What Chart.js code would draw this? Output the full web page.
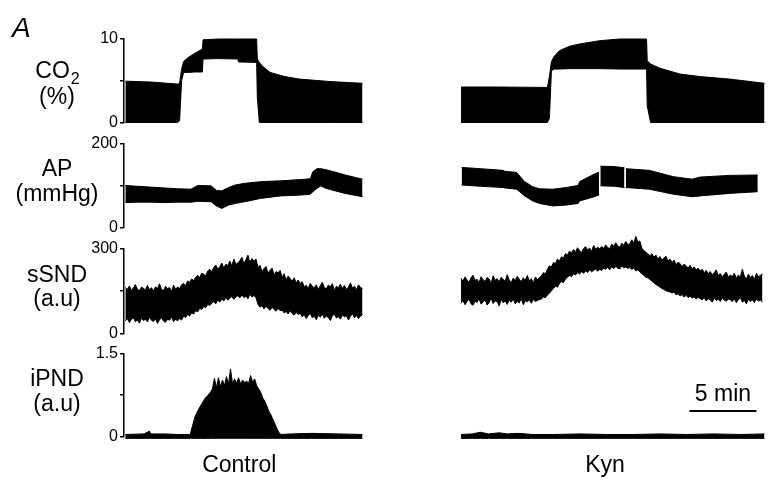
<!DOCTYPE html>
<html>
<head>
<meta charset="utf-8">
<script src="https://cdn.jsdelivr.net/npm/chart.js"></script>
<style>
  body { margin: 0; background: #fff; }
  #wrap { position: relative; width: 772px; height: 479px; }
  canvas { position: absolute; left: 0; top: 0; }
</style>
</head>
<body>
<div id="wrap">
  <canvas id="co2" width="772" height="479"></canvas>
  <canvas id="ap" width="772" height="479"></canvas>
  <canvas id="ssnd" width="772" height="479"></canvas>
  <canvas id="ipnd" width="772" height="479"></canvas>
</div>
<script>
// time in minutes, shared by all rows
const xMax = 47.84;

// CO2 (%) - trace envelope (lower / upper edge of the black band)
const co2CtrlT  = [0.1, 2.0, 4.0, 4.15, 4.3, 4.45, 4.8, 5.3, 5.85, 5.9, 7.0, 8.5, 8.55, 9.9, 9.95, 10.1, 10.3, 10.9, 12.0, 13.1, 15.4, 17.8];
const co2CtrlHi = [4.95, 4.85, 4.6, 4.7, 6.4, 7.3, 7.8, 8.3, 8.8, 9.9, 10, 10, 10, 10, 7.6, 7.2, 6.8, 6.0, 5.5, 5.2, 4.9, 4.7];
const co2CtrlLo = [0, 0, 0, 0.2, 5.0, 6.0, 6.0, 6.05, 6.05, 7.6, 7.65, 7.6, 7.25, 7.2, 3.0, 0, 0, 0, 0, 0, 0, 0];
const co2KynT  = [25.15, 28.0, 31.6, 31.75, 31.9, 32.1, 32.5, 33.2, 34.0, 35.5, 37.0, 39.0, 39.05, 39.3, 40.0, 41.5, 43.0, 45.2, 47.8];
const co2KynHi = [4.25, 4.25, 4.2, 5.5, 7.3, 7.9, 8.6, 9.1, 9.4, 9.8, 10.0, 10.0, 7.4, 7.0, 6.5, 5.8, 5.5, 5.2, 4.7];
const co2KynLo = [0, 0, 0, 0.5, 6.2, 6.4, 6.4, 6.45, 6.45, 6.45, 6.4, 6.4, 2.0, 0, 0, 0, 0, 0, 0];

// AP (mmHg); null = short break in the recording
const apCtrlT  = [0.1, 1.0, 2.0, 3.0, 4.0, 5.0, 5.5, 6.5, 6.9, 7.3, 7.8, 8.3, 9.0, 10.2, 11.7, 13.2, 13.9, 14.1, 14.4, 14.7, 15.0, 15.4, 16.5, 17.8];
const apCtrlHi = [101, 99, 97, 95, 93, 92, 101, 100, 89, 88, 96, 102, 106, 110, 112, 115, 117, 134, 141, 141, 139, 136, 126, 116];
const apCtrlLo = [60, 61, 61, 60, 61, 61, 63, 62, 52, 46, 54, 58, 62, 70, 76, 78, 80, 86, 94, 100, 95, 91, 82, 74];
const apKynT  = [25.2, 26.6, 28.3, 28.4, 29.3, 29.9, 30.5, 31.0, 32.0, 33.0, 33.9, 34.0, 34.9, 35.45, 35.5, 35.55, 36.6, 37.35, 37.4, 37.45, 39.2, 41.0, 42.4, 43.0, 45.2, 47.3];
const apKynHi = [144, 141, 137, 135, 132, 110, 98, 93, 92, 96, 101, 110, 125, 133, null, 147, 146, 143, null, 141, 137, 122, 116, 121, 125, 126];
const apKynLo = [102, 99, 96, 95, 92, 76, 64, 58, 52, 54, 58, 64, 72, 78, null, 100, 99, 96, null, 96, 92, 80, 74, 76, 82, 86];

// sSND (a.u) - band edges sampled every ssndStep minutes
const ssndStep = 0.15;
const ssndCtrlStart = 0.1;
const ssndKynStart = 25.15;
const ssndCtrlHi = [
  162, 155, 167, 152, 160, 172, 156, 150, 163, 159, 153, 169, 154, 161, 149, 164, 158, 175, 155, 151, 166, 157, 162, 148, 170, 156, 163,
  158, 171, 176, 168, 185, 180, 192, 186, 198, 205, 196, 212, 208, 203, 220, 226,
  218, 232, 241, 226, 236, 248, 230, 244, 239, 255, 238, 262, 243, 249, 256,
  268, 246, 260, 276, 250, 264, 254, 262,
  232, 240, 218, 228, 236, 212, 222, 230, 206, 218, 213, 222,
  198, 210, 188, 202, 193, 184, 196, 178, 188, 176,
  182, 164, 170, 158, 176, 166, 160, 171, 155, 168, 180, 162, 157, 170, 164, 175, 152, 166, 161, 173, 158, 169, 155, 163, 178, 160, 166, 154, 171, 162, 158];
const ssndCtrlLo = [
  44, 52, 38, 49, 55, 41, 47, 36, 53, 45, 50, 40, 57, 46, 42, 51, 35, 48, 54, 43, 39, 50, 46, 58, 41, 49, 44,
  52, 47, 60, 56, 66, 61, 72, 68, 80, 76, 88, 84, 95, 90, 102, 98,
  106, 112, 104, 118, 110, 121, 114, 126, 117, 124, 130, 120, 128, 133, 125,
  136, 126, 131, 122, 138, 128, 133, 126,
  102, 92, 98, 86, 95, 88, 81, 92, 84, 78, 88, 80,
  82, 72, 77, 68, 80, 70, 64, 74, 66, 71,
  58, 66, 52, 63, 70, 55, 60, 48, 64, 57, 68, 53, 61, 56, 45, 62, 67, 54, 59, 50, 65, 58, 62, 47, 60, 69, 55, 63, 52, 60, 66];
const ssndKynHi = [
  194, 184, 199, 188, 180, 196, 205, 186, 191, 178, 200, 189, 183, 197, 192, 176, 203, 187, 193, 181,
  198, 190, 184, 207, 188, 179, 195, 186, 201, 191, 182, 196, 187, 204, 185, 193, 178, 199, 190, 197,
  202, 214, 210, 226, 238,
  234, 250, 246, 262, 255, 270, 266, 281, 276, 290,
  284, 296, 288, 302, 292, 285, 299, 306, 294, 301, 289, 310, 297, 304, 298,
  306, 300, 312, 303, 298, 315, 307, 320, 309, 304, 318, 311, 324, 313, 316,
  330, 318, 342, 322, 326,
  300, 292, 286, 280, 274,
  281, 268, 276, 262, 271, 258, 266, 272, 255, 262,
  250, 258, 242, 251, 246, 236, 244, 238, 230, 240, 228, 234, 224, 230, 220,
  226, 214, 222, 210, 218, 206, 214, 224, 204, 211, 200, 208, 216, 198, 206,
  200, 212, 194, 206, 198, 226, 201, 192, 208, 197, 204, 190, 212, 199, 205, 210];
const ssndKynLo = [
  106, 116, 101, 112, 120, 104, 99, 114, 109, 122, 103, 111, 118, 100, 108, 124, 105, 115, 112, 97,
  119, 108, 114, 102, 117, 110, 121, 104, 113, 107, 123, 101, 115, 111, 118, 106, 120, 112, 116, 119,
  121, 128, 126, 135, 141,
  150, 158, 166, 163, 176, 182, 179, 192, 198, 204,
  200, 210, 206, 214, 209, 218, 212, 220, 215, 224, 217, 222, 227, 219, 225,
  222, 230, 226, 233, 224, 235, 228, 236, 230, 227, 238, 231, 234, 229, 232,
  226, 230, 220, 224, 216,
  210, 204, 198, 196, 190,
  184, 178, 172, 168, 163, 158, 155, 150, 148, 146,
  142, 146, 136, 140, 132, 137, 128, 134, 126, 131, 124, 129, 121, 127, 122,
  118, 126, 114, 122, 119, 110, 124, 116, 120, 112, 125, 117, 113, 121, 118,
  112, 122, 108, 118, 126, 110, 116, 104, 120, 112, 118, 109, 121, 114, 117, 111];

// iPND (a.u)
const ipndCtrlT = [0.1, 1.5, 1.9, 2.0, 3.0, 4.0, 4.95, 5.05, 5.3, 5.5, 5.7, 5.9, 6.05, 6.25, 6.45, 6.6, 6.75, 6.9,
  7.05, 7.2, 7.35, 7.5, 7.65, 7.8, 7.95, 8.1, 8.25, 8.4, 8.55, 8.7, 8.85, 9.0, 9.15, 9.3, 9.45, 9.6,
  9.75, 9.9, 10.05, 10.2, 10.35, 10.5, 10.65, 10.8, 10.95, 11.1, 11.25, 11.4, 11.55, 11.7, 12.5, 14.0, 16.0, 17.8];
const ipndCtrlHi = [0.04, 0.05, 0.1, 0.05, 0.05, 0.04, 0.04, 0.14, 0.36, 0.46, 0.55, 0.63, 0.69, 0.74, 0.8, 0.86, 1.05, 0.88,
  1.06, 0.9, 1.02, 0.92, 1.08, 0.94, 1.22, 0.95, 1.04, 0.96, 1.06, 0.95, 1.02, 0.97, 1.0, 0.96, 1.1, 0.98,
  1.04, 0.92, 0.86, 0.8, 0.7, 0.64, 0.56, 0.46, 0.4, 0.32, 0.24, 0.15, 0.08, 0.04, 0.05, 0.06, 0.05, 0.04];
const ipndCtrlLo = [-0.03, -0.03, -0.03, -0.03, -0.03, -0.03, -0.03, -0.03, -0.03, -0.03, -0.03, -0.03, -0.03, -0.03, -0.03, -0.03, -0.03, -0.03,
  -0.03, -0.03, -0.03, -0.03, -0.03, -0.03, -0.03, -0.03, -0.03, -0.03, -0.03, -0.03, -0.03, -0.03, -0.03, -0.03, -0.03, -0.03,
  -0.03, -0.03, -0.03, -0.03, -0.03, -0.03, -0.03, -0.03, -0.03, -0.03, -0.03, -0.03, -0.03, -0.03, -0.03, -0.03, -0.03, -0.03];
const ipndKynT  = [25.15, 26.0, 26.6, 27.2, 28.0, 28.6, 29.4, 30.5, 32.0, 34.0, 36.0, 38.0, 40.0, 42.0, 44.0, 46.0, 47.8];
const ipndKynHi = [0.04, 0.05, 0.08, 0.05, 0.07, 0.05, 0.06, 0.04, 0.04, 0.05, 0.04, 0.04, 0.05, 0.04, 0.05, 0.04, 0.05];
const ipndKynLo = [-0.03, -0.03, -0.03, -0.03, -0.03, -0.03, -0.03, -0.03, -0.03, -0.03, -0.03, -0.03, -0.03, -0.03, -0.03, -0.03, -0.03];

// 5 min scale bar
const scaleBarT = [42.2, 47.2];
const scaleBarY = 0.46;

const FONT = '"Liberation Sans", Arial, sans-serif';
Chart.defaults.font.family = FONT;

function pts(t, v) { return t.map((x, i) => ({ x: x, y: v[i] })); }

function band(t, lo, hi) {
  return [
    { data: pts(t, lo), borderColor: '#000', borderWidth: 1, fill: false, clip: false },
    { data: pts(t, hi), borderColor: '#000', borderWidth: 1, fill: '-1', backgroundColor: '#000', clip: false }
  ];
}

// let the band fills run a little past the axis range (traces overshoot in the original)
const unclip = {
  id: 'unclip',
  beforeDatasetsDraw(chart) { chart.chartArea.top -= 30; chart.chartArea.bottom += 10; },
  afterDatasetsDraw(chart) { chart.chartArea.top += 30; chart.chartArea.bottom -= 10; }
};

function textPlugin(items) {
  return {
    id: 'texts',
    afterDraw(chart) {
      const ctx = chart.ctx;
      const xs = chart.scales.x, ys = chart.scales.y;
      ctx.save();
      ctx.fillStyle = '#000';
      ctx.textBaseline = 'middle';
      items.forEach(it => {
        const px = it.t !== undefined ? xs.getPixelForValue(it.t) : it.x;
        const py = it.v !== undefined ? ys.getPixelForValue(it.v) : it.y;
        ctx.font = it.font || ('23px ' + FONT);
        if (it.sub) {
          const w = ctx.measureText(it.text).width;
          ctx.font = '16px ' + FONT;
          const w2 = ctx.measureText(it.sub).width;
          const x0 = px - (w + w2) / 2;
          ctx.textAlign = 'left';
          ctx.fillText(it.sub, x0 + w + 1, py + 8);
          ctx.font = '23px ' + FONT;
          ctx.fillText(it.text, x0, py);
        } else {
          ctx.textAlign = it.align || 'center';
          ctx.fillText(it.text, px, py);
        }
      });
      ctx.restore();
    }
  };
}

function makeChart(id, yMax, step, top, bottom, datasets, texts) {
  return new Chart(document.getElementById(id), {
    type: 'line',
    data: { datasets: datasets },
    options: {
      responsive: false,
      animation: false,
      events: [],
      spanGaps: false,
      layout: { padding: { left: 0, right: 7, top: top, bottom: 479 - bottom } },
      plugins: { legend: { display: false }, tooltip: { enabled: false } },
      elements: { point: { radius: 0 }, line: { tension: 0 } },
      scales: {
        x: { type: 'linear', min: 0, max: xMax, display: false },
        y: {
          min: 0, max: yMax,
          afterFit: s => { s.width = 124; },
          ticks: {
            stepSize: step, padding: 2, color: '#000', font: { size: 16 },
            callback: v => (v === 0 || v === yMax) ? String(v) : ''
          },
          grid: { drawOnChartArea: false, drawTicks: true, tickLength: 4, color: '#000', lineWidth: 1.5 },
          border: { display: true, color: '#000', width: 1.5 }
        }
      }
    },
    plugins: [unclip, textPlugin(texts)]
  });
}

makeChart('co2', 10, 5, 39, 122.5,
  band(co2CtrlT, co2CtrlLo, co2CtrlHi).concat(band(co2KynT, co2KynLo, co2KynHi)),
  [
    { text: 'A', x: 12, y: 29, align: 'left', font: 'italic 28px ' + FONT },
    { text: 'CO', sub: '2', x: 57, y: 72 },
    { text: '(%)', x: 57, y: 98 }
  ]);

makeChart('ap', 200, 100, 144, 227.7,
  band(apCtrlT, apCtrlLo, apCtrlHi).concat(band(apKynT, apKynLo, apKynHi)),
  [
    { text: 'AP', x: 57, y: 170 },
    { text: '(mmHg)', x: 57, y: 195 }
  ]);

const ssndCtrlT = ssndCtrlHi.map((_, i) => ssndCtrlStart + i * ssndStep);
const ssndKynT = ssndKynHi.map((_, i) => ssndKynStart + i * ssndStep);
makeChart('ssnd', 300, 150, 248.3, 333.3,
  band(ssndCtrlT, ssndCtrlLo, ssndCtrlHi).concat(band(ssndKynT, ssndKynLo, ssndKynHi)),
  [
    { text: 'sSND', x: 57, y: 276 },
    { text: '(a.u)', x: 57, y: 300 }
  ]);

makeChart('ipnd', 1.5, 0.75, 353.3, 436.7,
  band(ipndCtrlT, ipndCtrlLo, ipndCtrlHi).concat(band(ipndKynT, ipndKynLo, ipndKynHi)).concat([
    { data: pts(scaleBarT, [scaleBarY, scaleBarY]), borderColor: '#000', borderWidth: 2, fill: false, clip: false }
  ]),
  [
    { text: 'iPND', x: 57, y: 380 },
    { text: '(a.u)', x: 57, y: 405 },
    { text: '5 min', t: (scaleBarT[0] + scaleBarT[1]) / 2, v: 0.75 },
    { text: 'Control', t: 8.6, y: 466 },
    { text: 'Kyn', t: 35.9, y: 466 }
  ]);
</script>
</body>
</html>
